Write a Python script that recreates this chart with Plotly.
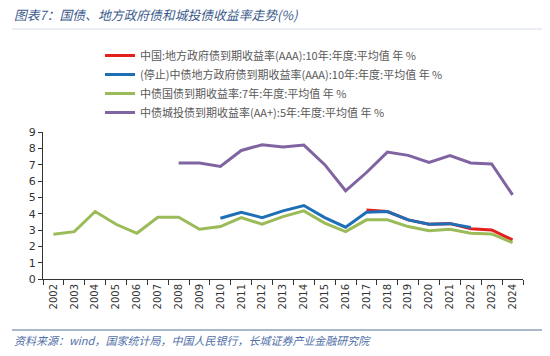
import plotly.graph_objects as go

years = [str(y) for y in range(2002, 2025)]

# 中国:地方政府债到期收益率(AAA):10年 (2017-2024)
red_vals = [None]*15 + [4.22, 4.13, 3.62, 3.35, 3.39, 3.08, 3.00, 2.39]
# (停止)中债地方政府债到期收益率(AAA):10年 (2010-2022)
blue_vals = [None]*8 + [3.72, 4.09, 3.76, 4.17, 4.50, 3.76, 3.17, 4.09, 4.13, 3.62, 3.35, 3.39, 3.15, None, None]
# 中债国债到期收益率:7年 (2002-2024)
green_vals = [2.74, 2.90, 4.13, 3.35, 2.80, 3.78, 3.78, 3.05, 3.21, 3.76, 3.35, 3.82, 4.17,
              3.42, 2.90, 3.62, 3.62, 3.21, 2.96, 3.05, 2.80, 2.76, 2.23]
# 中债城投债到期收益率(AA+):5年 (2008-2024)
purple_vals = [None]*6 + [7.10, 7.10, 6.89, 7.87, 8.22, 8.08, 8.20, 7.00, 5.40, 6.52, 7.77,
                          7.57, 7.14, 7.55, 7.10, 7.04, 5.15]

names = [
    "中国:地方政府债到期收益率(AAA):10年:年度:平均值 年 %",
    "(停止)中债地方政府债到期收益率(AAA):10年:年度:平均值 年 %",
    "中债国债到期收益率:7年:年度:平均值 年 %",
    "中债城投债到期收益率(AA+):5年:年度:平均值 年 %",
]
colors = ["#e3211c", "#1f6fb6", "#9bbb59", "#8064a2"]
series = [red_vals, blue_vals, green_vals, purple_vals]

fig = go.Figure()
for name, col, vals in zip(names, colors, series):
    fig.add_trace(go.Scatter(x=years, y=vals, name=name, mode="lines",
                             line=dict(color=col, width=3), connectgaps=False))

W, H = 550, 356
l, r, t, b = 43, 27, 132, 77
pw, ph = W - l - r, H - t - b
def px(x): return (x - l) / pw
def py(y): return (H - b - y) / ph

cjk = "Noto Sans CJK SC, sans-serif"
fig.update_layout(
    width=W, height=H,
    margin=dict(l=l, r=r, t=t, b=b, autoexpand=False),
    paper_bgcolor="white", plot_bgcolor="white",
    showlegend=True,
    legend=dict(x=px(100), y=1 - 41 / H, xref="paper", yref="container", xanchor="left", yanchor="top",
                font=dict(family=cjk, size=11, color="#595959"),
                bgcolor="rgba(0,0,0,0)", itemwidth=30, tracegroupgap=0),
    xaxis=dict(type="category", range=[-0.5, len(years) - 0.5], tickson="boundaries",
               ticks="outside", ticklen=5,
               tickcolor="#333", showline=True, linecolor="#333", linewidth=1,
               tickangle=-90, showgrid=False, automargin=False,
               tickfont=dict(family="DejaVu Sans", size=10, color="#333")),
    yaxis=dict(range=[0, 9], dtick=1, ticks="outside", ticklen=4, tickcolor="#333",
               showline=True, linecolor="#333", linewidth=1, showgrid=False, zeroline=False,
               automargin=False,
               tickfont=dict(family="DejaVu Sans", size=11, color="#333")),
    annotations=[
        dict(text="图表7：国债、地方政府债和城投债收益率走势(%)", x=px(12), y=py(14), xref="paper", yref="paper",
             showarrow=False, xanchor="left", yanchor="middle",
             font=dict(family=cjk, size=12.8, color="#3b5a8c", style="italic")),
        dict(text="资料来源：wind，国家统计局，中国人民银行，长城证券产业金融研究院", x=px(12), y=py(340),
             xref="paper", yref="paper",
             showarrow=False, xanchor="left", yanchor="middle",
             font=dict(family=cjk, size=11, color="#4f6fa8", style="italic")),
    ],
)

fig.add_shape(type="line", xref="paper", yref="paper", x0=px(12), x1=px(542), y0=py(29), y1=py(29),
              line=dict(color="#d5deea", width=1))
fig.add_shape(type="line", xref="paper", yref="paper", x0=px(12), x1=px(542), y0=py(330), y1=py(330),
              line=dict(color="#8fa0bb", width=1.5))

fig.write_html("out.html", config={"displayModeBar": False},
               post_script="document.body.style.margin='0';document.body.style.overflow='hidden';")
